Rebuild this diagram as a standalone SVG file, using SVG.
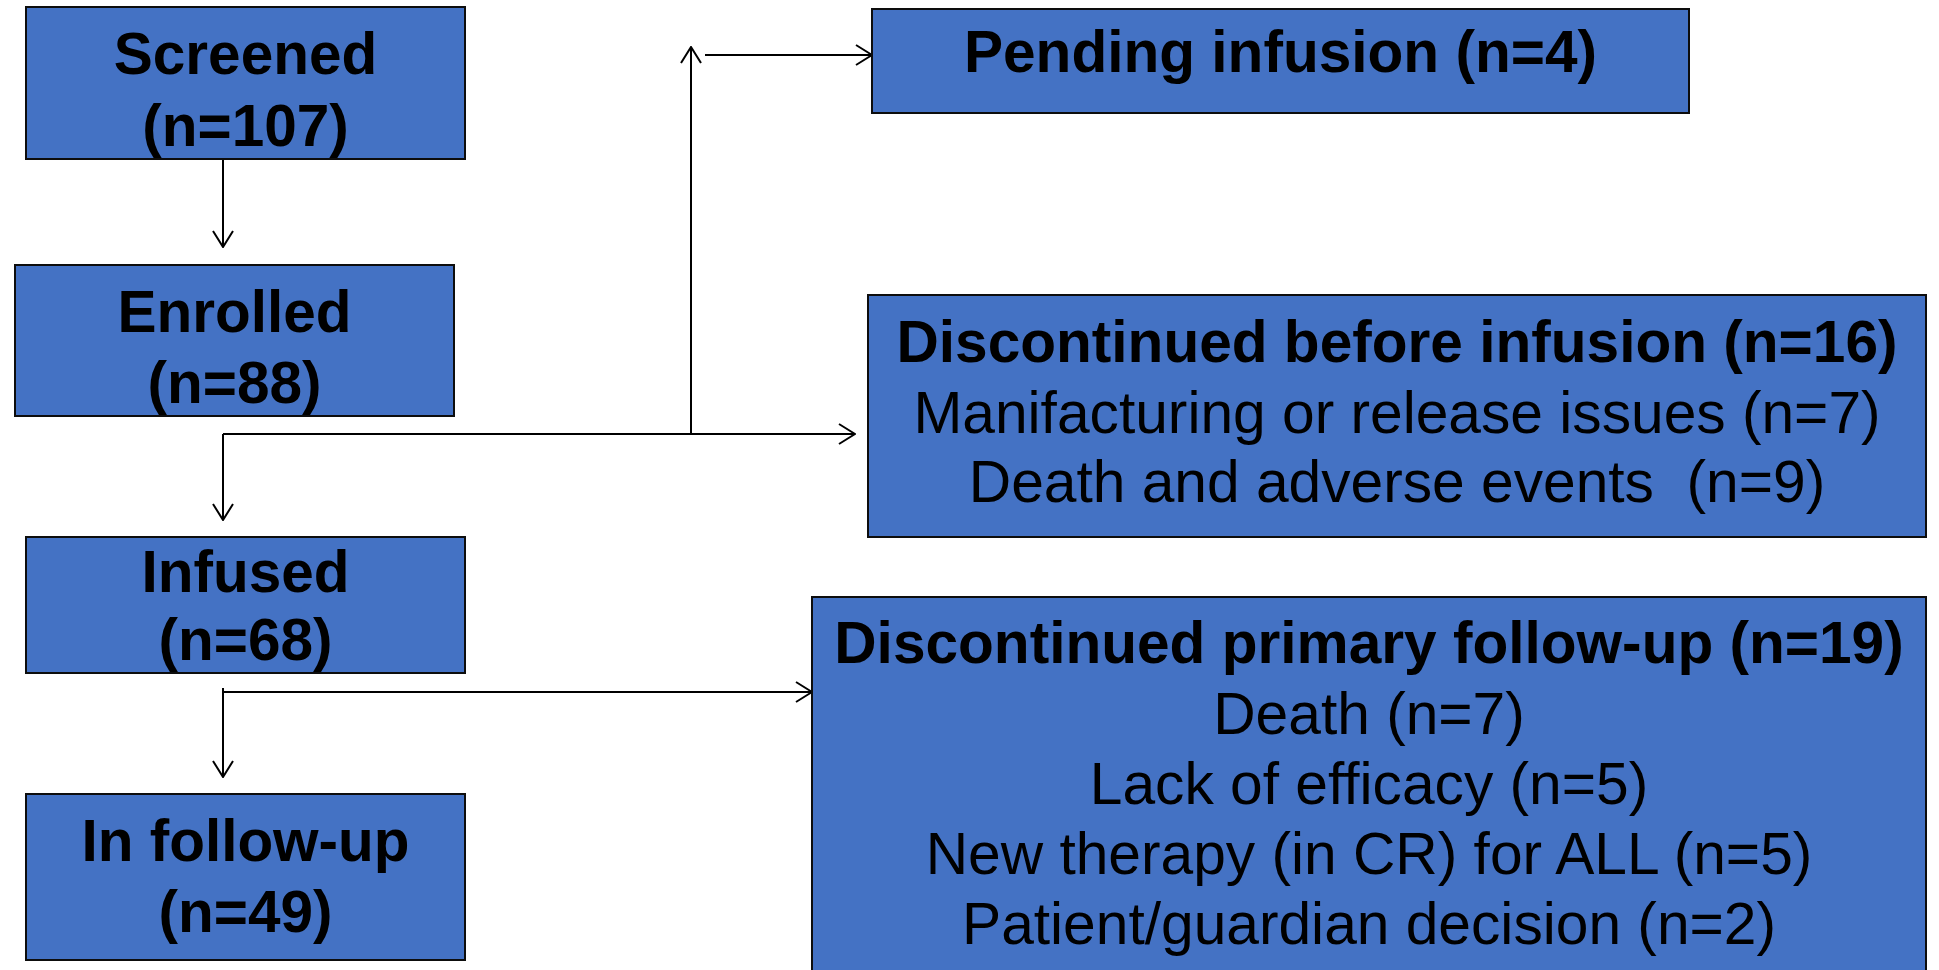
<svg xmlns="http://www.w3.org/2000/svg" width="1939" height="970" viewBox="0 0 1939 970">
<style>
.box{fill:#4472C4;stroke:#0d0d0d;stroke-width:2}
.t{font-family:"Liberation Sans",Arial,sans-serif;fill:#000;text-anchor:middle}
.b{font-weight:bold;font-size:58.5px}
.rb{font-weight:bold;font-size:58.6px}
.r{font-size:58.7px}
.ln{fill:none;stroke:#000;stroke-width:2}
</style>
<defs>
<marker id="ah" viewBox="0 0 18 22" refX="17" refY="11" markerWidth="18" markerHeight="22" markerUnits="userSpaceOnUse" orient="auto">
<path d="M1,1 L17,11 L1,21" fill="none" stroke="#000" stroke-width="2"/>
</marker>
</defs>
<g id="connectors">
<path class="ln" d="M223,159 V247" marker-end="url(#ah)"/>
<path class="ln" d="M223,434 V520" marker-end="url(#ah)"/>
<path class="ln" d="M223,434 H855" marker-end="url(#ah)"/>
<path class="ln" d="M691,435 V47" marker-end="url(#ah)"/>
<path class="ln" d="M705,55 H872" marker-end="url(#ah)"/>
<path class="ln" d="M223,688 V777" marker-end="url(#ah)"/>
<path class="ln" d="M223,692 H812" marker-end="url(#ah)"/>
</g>
<g id="screened">
<rect class="box" x="26" y="7" width="439" height="152"/>
<text class="t b" x="245.5" y="74">Screened</text>
<text class="t b" x="245.5" y="146">(n=107)</text>
</g>
<g id="enrolled">
<rect class="box" x="15" y="265" width="439" height="151"/>
<text class="t b" x="234.5" y="332">Enrolled</text>
<text class="t b" x="234.5" y="403">(n=88)</text>
</g>
<g id="infused">
<rect class="box" x="26" y="537" width="439" height="136"/>
<text class="t b" x="245.5" y="592">Infused</text>
<text class="t b" x="245.5" y="660">(n=68)</text>
</g>
<g id="followup">
<rect class="box" x="26" y="794" width="439" height="166"/>
<text class="t b" x="245.5" y="861">In follow-up</text>
<text class="t b" x="245.5" y="932">(n=49)</text>
</g>
<g id="pending">
<rect class="box" x="872" y="9" width="817" height="104"/>
<text class="t rb" x="1280.5" y="72">Pending infusion (n=4)</text>
</g>
<g id="disc-before">
<rect class="box" x="868" y="295" width="1058" height="242"/>
<text class="t rb" x="1397" y="362">Discontinued before infusion (n=16)</text>
<text class="t r" x="1397" y="433">Manifacturing or release issues (n=7)</text>
<text class="t r" x="1397" y="502">Death and adverse events&#160; (n=9)</text>
</g>
<g id="disc-followup">
<rect class="box" x="812" y="597" width="1114" height="390"/>
<text class="t rb" x="1369" y="663">Discontinued primary follow-up (n=19)</text>
<text class="t r" x="1369" y="734">Death (n=7)</text>
<text class="t r" x="1369" y="804">Lack of efficacy (n=5)</text>
<text class="t r" x="1369" y="874">New therapy (in CR) for ALL (n=5)</text>
<text class="t r" x="1369" y="944">Patient/guardian decision (n=2)</text>
</g>
</svg>
